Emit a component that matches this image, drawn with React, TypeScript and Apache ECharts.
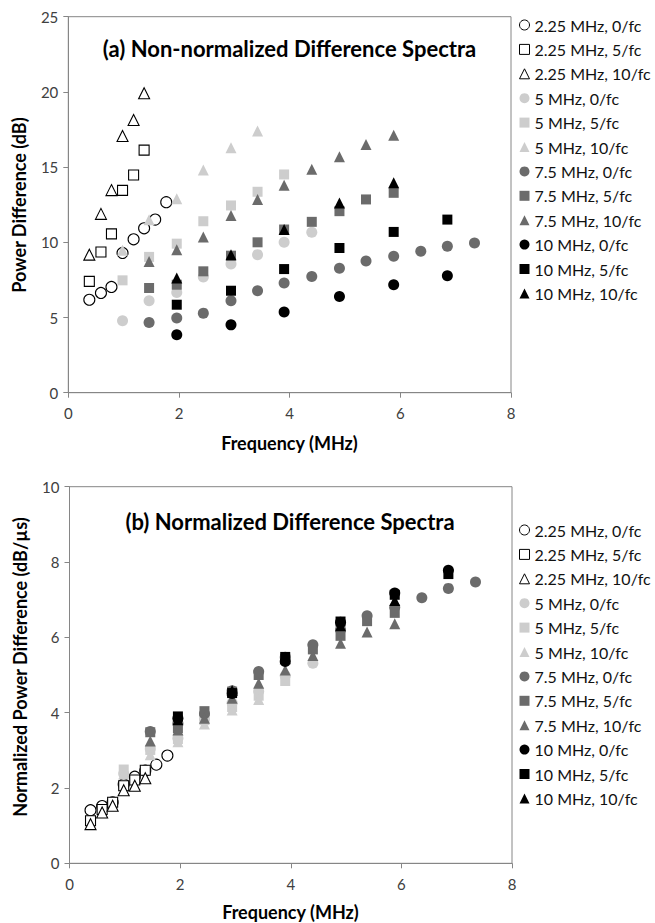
import React, { useEffect, useRef } from "react";
import * as echarts from "echarts";

// Frequencies (MHz)
const f225All = [0.38, 0.59, 0.78, 0.98, 1.18, 1.37, 1.57, 1.77];
const f225 = [0.38, 0.59, 0.78, 0.98, 1.18, 1.37];
const f5 = [0.98, 1.46, 1.96, 2.44, 2.94, 3.42, 3.9, 4.4];
const f75 = [1.46, 1.96, 2.44, 2.94, 3.42, 3.9, 4.4, 4.9, 5.38, 5.88, 6.37, 6.85, 7.34];
const f10 = [1.96, 2.94, 3.9, 4.9, 5.88, 6.85];

// (a) Non-normalized power difference (dB)
const a225_0 = [6.18, 6.63, 7.03, 9.29, 10.2, 10.93, 11.51, 12.67];
const a225_5 = [7.4, 9.36, 10.56, 13.45, 14.47, 16.13];
const a225_10 = [9.18, 11.89, 13.47, 17.07, 18.13, 19.91];
const a5_0 = [4.78, 6.11, 6.67, 7.69, 8.56, 9.18, 10.0, 10.67];
const a5_5 = [7.47, 9.03, 9.91, 11.4, 12.45, 13.36, 14.51];
const a5_10 = [9.47, 11.5, 12.9, 14.8, 16.29, 17.4];
const a75_0 = [4.67, 4.96, 5.29, 6.11, 6.78, 7.29, 7.73, 8.27, 8.76, 9.07, 9.4, 9.73, 9.96];
const a75_5 = [6.96, 7.18, 8.07, 9.11, 10.0, 10.85, 11.36, 12.07, 12.85, 13.29];
const a75_10 = [8.73, 9.51, 10.36, 11.78, 12.85, 13.8, 14.85, 15.69, 16.51, 17.11];
const a10_0 = [3.85, 4.51, 5.36, 6.4, 7.18, 7.78];
const a10_5 = [5.85, 6.78, 8.22, 9.62, 10.69, 11.51];
const a10_10 = [7.62, 9.18, 10.85, 12.62, 13.96];

// (b) Normalized power difference (dB/us)
const b225_0 = [1.41, 1.52, 1.62, 2.1, 2.3, 2.46, 2.62, 2.86];
const b225_5 = [1.13, 1.43, 1.62, 2.06, 2.21, 2.47];
const b225_10 = [1.04, 1.35, 1.53, 1.94, 2.06, 2.26];
const b5_0 = [2.38, 3.04, 3.32, 3.83, 4.26, 4.57, 4.98, 5.31];
const b5_5 = [2.49, 3.01, 3.3, 3.8, 4.15, 4.45, 4.84];
const b5_10 = [2.37, 2.88, 3.23, 3.7, 4.07, 4.35];
const b75_0 = [3.5, 3.72, 3.97, 4.58, 5.09, 5.47, 5.8, 6.2, 6.57, 6.8, 7.05, 7.3, 7.47];
const b75_5 = [3.48, 3.59, 4.04, 4.56, 5.0, 5.43, 5.68, 6.04, 6.43, 6.65];
const b75_10 = [3.25, 3.54, 3.85, 4.38, 4.78, 5.13, 5.52, 5.84, 6.14, 6.36];
const b10_0 = [3.85, 4.51, 5.36, 6.4, 7.18, 7.78];
const b10_5 = [3.9, 4.52, 5.48, 6.42, 7.13, 7.68];
const b10_10 = [3.81, 4.59, 5.43, 6.31, 6.98];

const seriesNames = [
  "2.25 MHz, 0/fc", "2.25 MHz, 5/fc", "2.25 MHz, 10/fc",
  "5 MHz, 0/fc", "5 MHz, 5/fc", "5 MHz, 10/fc",
  "7.5 MHz, 0/fc", "7.5 MHz, 5/fc", "7.5 MHz, 10/fc",
  "10 MHz, 0/fc", "10 MHz, 5/fc", "10 MHz, 10/fc",
];
const xsets = [f225All, f225, f225, f5, f5, f5, f75, f75, f75, f10, f10, f10];
const topSets = [a225_0, a225_5, a225_10, a5_0, a5_5, a5_10, a75_0, a75_5, a75_10, a10_0, a10_5, a10_10];
const botSets = [b225_0, b225_5, b225_10, b5_0, b5_5, b5_10, b75_0, b75_5, b75_10, b10_0, b10_5, b10_10];

const FONT = "Lato, 'Open Sans', sans-serif";
const LIGHT = "#cdcdcd";
const DARK = "#6b6b6b";

function styleFor(i: number) {
  const shape = ["circle", "rect", "triangle"][i % 3];
  const group = Math.floor(i / 3);
  const size = shape === "circle" ? 11 : shape === "rect" ? 10 : 11;
  let itemStyle: any;
  if (group === 0) itemStyle = { color: "#ffffff", borderColor: "#000000", borderWidth: 1.1, opacity: 1 };
  else if (group === 1) itemStyle = { color: LIGHT, opacity: 1 };
  else if (group === 2) itemStyle = { color: DARK, opacity: 1 };
  else itemStyle = { color: "#000000", opacity: 1 };
  return { symbol: shape, symbolSize: size, itemStyle };
}

export default function App() {
  const ref = useRef<HTMLDivElement>(null);
  useEffect(() => {
    if (!ref.current) return;
    const chart = echarts.init(ref.current, undefined, { renderer: "svg" });
    const axisCommon = {
      axisLine: { show: true, lineStyle: { color: "#868686", width: 1 } },
      axisTick: { show: true, inside: false, length: 5, lineStyle: { color: "#868686" } },
      splitLine: { show: false },
      axisLabel: { color: "#404040", fontSize: 15, fontFamily: FONT },
    };
    const series: any[] = [];
    seriesNames.forEach((name, i) => {
      const st = styleFor(i);
      series.push({
        type: "scatter", name, xAxisIndex: 0, yAxisIndex: 0, ...st,
        data: xsets[i].map((x, k) => [x, topSets[i][k]]),
      });
    });
    seriesNames.forEach((name, i) => {
      const st = styleFor(i);
      series.push({
        type: "scatter", name, xAxisIndex: 1, yAxisIndex: 1, ...st,
        data: xsets[i].map((x, k) => [x, botSets[i][k]]),
      });
    });
    const legendCommon = {
      orient: "vertical",
      left: 519,
      padding: 0,
      itemWidth: 10,
      itemHeight: 10,
      itemGap: 8.4,
      textStyle: { fontSize: 16, lineHeight: 16, fontFamily: FONT, color: "#111" },
      data: seriesNames.map((n, i) => ({
        name: n,
        itemStyle: i < 3 ? { borderWidth: 1 } : undefined,
      })),
      selectedMode: false,
    };
    chart.setOption({
      animation: false,
      backgroundColor: "#ffffff",
      grid: [
        { left: 68.3, top: 16.7, width: 442.7, height: 376, show: true, borderColor: "#868686", borderWidth: 1, backgroundColor: "transparent" },
        { left: 69.5, top: 486.7, width: 442.5, height: 376.6, show: true, borderColor: "#868686", borderWidth: 1, backgroundColor: "transparent" },
      ],
      xAxis: [
        { type: "value", gridIndex: 0, min: 0, max: 8, interval: 2, ...axisCommon, axisLabel: { ...axisCommon.axisLabel, margin: 13 } },
        { type: "value", gridIndex: 1, min: 0, max: 8, interval: 2, ...axisCommon, axisLabel: { ...axisCommon.axisLabel, margin: 13 } },
      ],
      yAxis: [
        { type: "value", gridIndex: 0, min: 0, max: 25, interval: 5, ...axisCommon, axisLabel: { ...axisCommon.axisLabel, margin: 10 } },
        { type: "value", gridIndex: 1, min: 0, max: 10, interval: 2, ...axisCommon, axisLabel: { ...axisCommon.axisLabel, margin: 10 } },
      ],
      legend: [
        { ...legendCommon, top: 17 },
        { ...legendCommon, top: 522 },
      ],
      graphic: [
        { type: "text", x: 289.5, y: 48, style: { text: "(a) Non-normalized Difference Spectra", font: `bold 22px ${FONT}`, fill: "#000", textAlign: "center", textVerticalAlign: "middle" } },
        { type: "text", x: 290, y: 521, style: { text: "(b) Normalized Difference Spectra", font: `bold 22px ${FONT}`, fill: "#000", textAlign: "center", textVerticalAlign: "middle" } },
        { type: "text", x: 289.5, y: 443, style: { text: "Frequency (MHz)", font: `bold 18px ${FONT}`, fill: "#000", textAlign: "center", textVerticalAlign: "middle" } },
        { type: "text", x: 290.5, y: 912, style: { text: "Frequency (MHz)", font: `bold 18px ${FONT}`, fill: "#000", textAlign: "center", textVerticalAlign: "middle" } },
        { type: "text", x: 19, y: 205, rotation: Math.PI / 2, style: { text: "Power Difference (dB)", font: `bold 18px ${FONT}`, fill: "#000", textAlign: "center", textVerticalAlign: "middle" } },
        { type: "text", x: 20, y: 667, rotation: Math.PI / 2, style: { text: "Normalized Power Difference (dB/\u00b5s)", font: `bold 18px ${FONT}`, fill: "#000", textAlign: "center", textVerticalAlign: "middle" } },
      ],
      series,
    });
    return () => chart.dispose();
  }, []);
  return <div ref={ref} style={{ position: "absolute", left: 0, top: 0, width: 655, height: 923 }} />;
}
